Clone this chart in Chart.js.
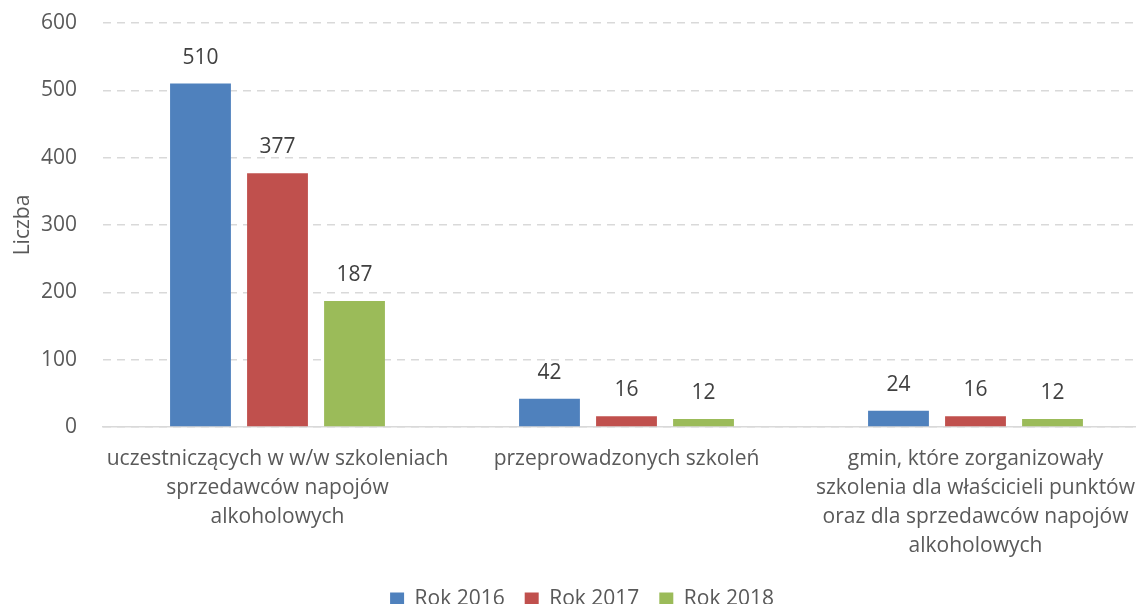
<!DOCTYPE html>
<html><head><meta charset="utf-8">
<script src="https://cdn.jsdelivr.net/npm/chart.js@4"></script>
<style>html,body{margin:0;padding:0;background:#fff;overflow:hidden}#w{width:1187px;height:604px}</style>
</head><body><div id="w"><canvas id="c"></canvas></div>
<script>
const categories = [
  ["uczestniczących w w/w szkoleniach", "sprzedawców napojów", "alkoholowych"],
  ["przeprowadzonych szkoleń"],
  ["gmin, które zorganizowały", "szkolenia dla właścicieli punktów", "oraz dla sprzedawców napojów", "alkoholowych"]
];
const seriesNames = ["Rok 2016", "Rok 2017", "Rok 2018"];
const values2016 = [510, 42, 24];
const values2017 = [377, 16, 16];
const values2018 = [187, 12, 12];
const colors = ["#4F81BD", "#C0504D", "#9BBB59"];
const yTicks = [0, 100, 200, 300, 400, 500, 600];
const yTitle = "Liczba";
const FONT = "'Open Sans', sans-serif";
const FS = 21;

const labelPlugin = {
  id: 'barLabels',
  afterDatasetsDraw(chart) {
    const ctx = chart.ctx;
    ctx.save();
    ctx.font = FS + "px " + FONT;
    ctx.fillStyle = "#404040";
    ctx.textAlign = "center";
    ctx.textBaseline = "middle";
    chart.data.datasets.forEach((ds, i) => {
      chart.getDatasetMeta(i).data.forEach((bar, j) => {
        ctx.fillText(String(ds.data[j]), bar.x, bar.y - 26);
      });
    });
    ctx.restore();
  }
};

new Chart(document.getElementById('c'), {
  type: 'bar',
  data: {
    labels: categories,
    datasets: [values2016, values2017, values2018].map((d, i) => ({
      label: seriesNames[i], data: d, backgroundColor: colors[i],
      categoryPercentage: 0.662, barPercentage: 0.79
    }))
  },
  options: {
    responsive: true, maintainAspectRatio: false, animation: false,
    layout: { padding: { top: 23, right: 37, left: 14, bottom: -16 } },
    plugins: {
      legend: { position: 'bottom', labels: { font: { family: FONT, size: FS }, color: '#595959', boxWidth: 14, boxHeight: 14, padding: 20 } },
      tooltip: { enabled: false }
    },
    scales: {
      x: {
        grid: { display: false, drawTicks: false },
        border: { color: '#D9D9D9', width: 1.5 },
        ticks: { font: { family: FONT, size: FS, lineHeight: 1.38 }, color: '#595959', maxRotation: 0, autoSkip: false, padding: 18 },
        afterFit(s) { s.height = 142; }
      },
      y: {
        min: 0, max: 600,
        afterBuildTicks(s) { s.ticks = yTicks.map(v => ({ value: v })); },
        grid: { color: '#D9D9D9', drawTicks: false, lineWidth: 1.5 },
        border: { display: false, dash: [8, 6] },
        ticks: { font: { family: FONT, size: FS }, color: '#595959', padding: 26 },
        title: { display: true, text: yTitle, font: { family: FONT, size: FS }, color: '#595959', padding: { top: -4, bottom: 0 } },
        afterFit(s) { s.width = 89; s.paddingTop = 0; s.paddingBottom = 0; }
      }
    }
  },
  plugins: [labelPlugin]
});
</script></body></html>
